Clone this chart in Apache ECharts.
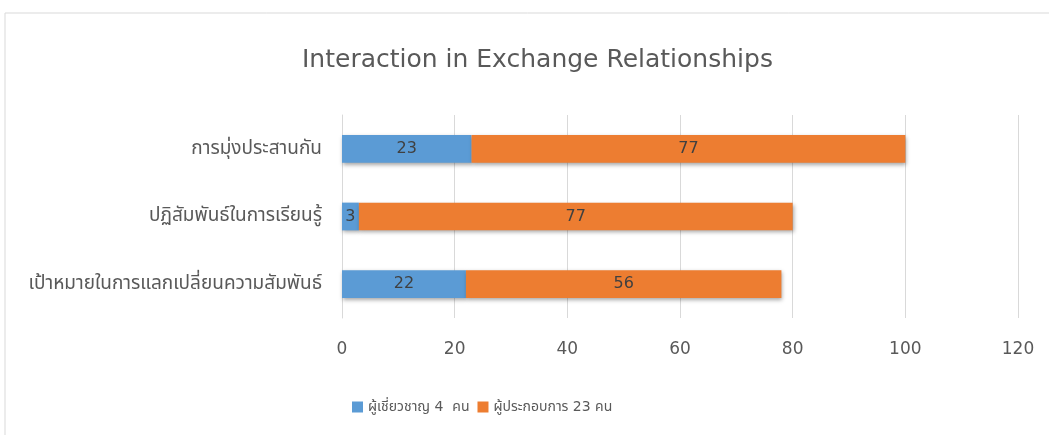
<!DOCTYPE html>
<html>
<head>
<meta charset="utf-8">
<script src="https://cdn.jsdelivr.net/npm/echarts@6/dist/echarts.min.js"></script>
<style>
  html, body { margin: 0; padding: 0; background: #ffffff; }
  #chart { width: 1049px; height: 435px; }
</style>
</head>
<body>
<div id="chart"></div>
<script>
// Categories listed bottom-to-top as ECharts draws a category y-axis
const categories = [
  'เป้าหมายในการแลกเปลี่ยนความสัมพันธ์',
  'ปฏิสัมพันธ์ในการเรียนรู้',
  'การมุ่งประสานกัน'
];
const seriesNames = ['ผู้เชี่ยวชาญ 4  คน', 'ผู้ประกอบการ 23 คน'];
const expertValues = [22, 3, 23];
const operatorValues = [56, 77, 77];
const xTicks = [0, 20, 40, 60, 80, 100, 120];

const FONT = "'DejaVu Sans', 'Noto Sans Thai', 'Noto Sans', sans-serif";
const TEXT_GRAY = '#595959';
const chart = echarts.init(document.getElementById('chart'));

const barShadow = {
  shadowColor: 'rgba(0,0,0,0.35)',
  shadowBlur: 4,
  shadowOffsetX: 1,
  shadowOffsetY: 2
};

chart.setOption({
  backgroundColor: '#ffffff',
  animation: false,
  graphic: [{
    type: 'rect',
    shape: { x: 5, y: 13, width: 1200, height: 600 },
    style: { fill: 'none', stroke: '#d9d9d9', lineWidth: 1 },
    silent: true
  }],
  title: {
    text: 'Interaction in Exchange Relationships',
    left: 297,
    top: 43,
    textStyle: { fontFamily: FONT, fontSize: 25, fontWeight: 'normal', color: TEXT_GRAY }
  },
  legend: {
    data: seriesNames,
    left: 347,
    top: 395,
    itemWidth: 11,
    itemHeight: 11,
    itemGap: 8,
    icon: 'rect',
    textStyle: { fontFamily: FONT, fontSize: 14, color: TEXT_GRAY }
  },
  grid: { left: 342, right: 31, top: 115, bottom: 117, containLabel: false },
  xAxis: {
    type: 'value',
    min: xTicks[0],
    max: xTicks[xTicks.length - 1],
    interval: xTicks[1] - xTicks[0],
    axisLine: { show: false },
    axisTick: { show: false },
    axisLabel: { fontFamily: FONT, fontSize: 17, color: TEXT_GRAY, margin: 23 },
    splitLine: { lineStyle: { color: '#d9d9d9', width: 1 } }
  },
  yAxis: {
    type: 'category',
    data: categories,
    axisLine: { show: true, lineStyle: { color: '#d9d9d9' } },
    axisTick: { show: false },
    axisLabel: { fontFamily: FONT, fontSize: 19, color: TEXT_GRAY, margin: 20 }
  },
  series: [
    {
      name: seriesNames[0],
      type: 'bar',
      stack: 'total',
      data: expertValues,
      barWidth: '41%',
      itemStyle: Object.assign({ color: '#5b9bd5' }, barShadow),
      label: { show: true, position: 'inside', fontFamily: FONT, fontSize: 16, color: '#404040' }
    },
    {
      name: seriesNames[1],
      type: 'bar',
      stack: 'total',
      data: operatorValues,
      barWidth: '41%',
      itemStyle: Object.assign({ color: '#ed7d31' }, barShadow),
      label: { show: true, position: 'inside', fontFamily: FONT, fontSize: 16, color: '#404040' }
    }
  ]
});
</script>
</body>
</html>
